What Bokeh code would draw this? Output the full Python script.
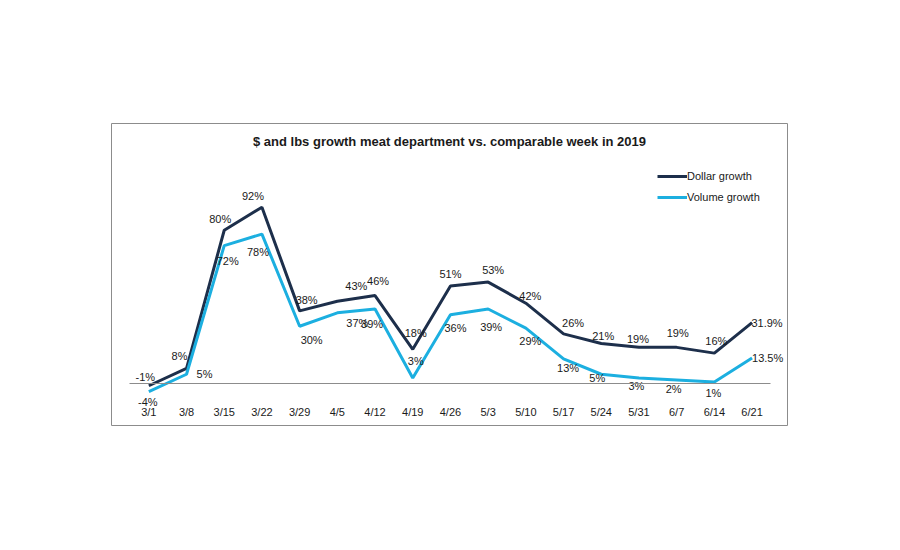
from bokeh.plotting import figure
from bokeh.models import (ColumnDataSource, Range1d, LinearAxis, FixedTicker,
                          Label, Legend, LegendItem)
from bokeh.embed import file_html
from bokeh.resources import INLINE

# Weekly growth vs. comparable week in 2019 (percent)
weeks = ["3/1", "3/8", "3/15", "3/22", "3/29", "4/5", "4/12", "4/19", "4/26",
         "5/3", "5/10", "5/17", "5/24", "5/31", "6/7", "6/14", "6/21"]
dollar_growth = [-1, 8, 80, 92, 38, 43, 46, 18, 51, 53, 42, 26, 21, 19, 19, 16, 31.9]
volume_growth = [-4, 5, 72, 78, 30, 37, 39, 3, 36, 39, 29, 13, 5, 3, 2, 1, 13.5]

# Pixel nudges for the value labels (dx, dy), positive dy = downward
dollar_dx = [-3.5, -7, -4, -9, 7, 19, 3, 3, 0, 5, 4.5, 9.5, 2, -1, 1, 2, 15]
dollar_dy = [-8.5, -12, -11, -11, -11, -15, -15, -16, -12, -12.5, -7, -11, -8, -8.5, -14, -12.5, 0]
volume_dx = [-1, 18, 3.5, -4, 12, 20, -3, 3, 5, 3, 4.5, 4.5, -4, -2.5, -3, -1, 15.6]
volume_dy = [10.7, 0, 15, 17.5, 14, 10, 15, -17, 13, 18, 12.5, 9.4, 3.6, 7.5, 9.5, 11, 0]

DARK = "#1d2f4b"
CYAN = "#1cafe0"
TEXT = "#1a1a1a"
FONT = "Liberation Sans"


def fmt(v):
    return f"{v:g}%"


idx = list(range(len(weeks)))
src = ColumnDataSource(dict(
    x=idx,
    dollar=dollar_growth,
    volume=volume_growth,
    dollar_lbl=[fmt(v) for v in dollar_growth],
    volume_lbl=[fmt(v) for v in volume_growth],
    ddx=dollar_dx, ddy=dollar_dy, vdx=volume_dx, vdy=volume_dy,
))

p = figure(width=900, height=550, output_backend="svg", toolbar_location=None,
           x_range=Range1d(-0.99, 16.94), y_range=Range1d(-21.7, 135.6),
           x_axis_type=None, y_axis_type=None,
           min_border_left=111, min_border_right=113,
           min_border_top=123, min_border_bottom=125)
p.xgrid.visible = False
p.ygrid.visible = False
p.outline_line_color = "#8c8c8c"
p.outline_line_width = 1
p.background_fill_color = "white"
p.border_fill_color = "white"

# Zero baseline across the category extent
zero_axis = LinearAxis(fixed_location=0, bounds=(-0.5, 16.5),
                       ticker=FixedTicker(ticks=[]))
zero_axis.axis_line_color = "#8c8c8c"
zero_axis.axis_line_width = 1
zero_axis.major_tick_line_color = None
zero_axis.minor_tick_line_color = None
zero_axis.major_label_text_font_size = "0px"
p.add_layout(zero_axis, "below")

# Week labels along the bottom of the plot area
week_axis = LinearAxis(fixed_location=-10, ticker=FixedTicker(ticks=idx),
                       major_label_overrides={i: w for i, w in enumerate(weeks)})
week_axis.axis_line_color = None
week_axis.major_tick_line_color = None
week_axis.minor_tick_line_color = None
week_axis.major_tick_in = 0
week_axis.major_tick_out = 0
week_axis.major_label_standoff = 3
week_axis.major_label_text_font = FONT
week_axis.major_label_text_font_size = "11px"
week_axis.major_label_text_color = TEXT
p.add_layout(week_axis, "below")

r_dollar = p.line("x", "dollar", source=src, line_color=DARK, line_width=3)
r_volume = p.line("x", "volume", source=src, line_color=CYAN, line_width=3)

common = dict(source=src, text_font_size="11px", text_color=TEXT,
              text_align="center", text_baseline="middle")
p.text("x", "dollar", text="dollar_lbl", x_offset="ddx", y_offset="ddy",
       text_font={"value": FONT}, **common)
p.text("x", "volume", text="volume_lbl", x_offset="vdx", y_offset="vdy",
       text_font={"value": FONT}, **common)

title = Label(x=338, y=284, x_units="screen", y_units="screen",
              text="$ and lbs growth meat department vs. comparable week in 2019",
              text_font=FONT, text_font_size="13px", text_font_style="bold",
              text_color=TEXT, text_align="center", text_baseline="middle")
p.add_layout(title)

legend = Legend(items=[LegendItem(label="Dollar growth", renderers=[r_dollar]),
                       LegendItem(label="Volume growth", renderers=[r_volume])],
                location=(546, 218), orientation="vertical",
                glyph_width=30, glyph_height=20, label_height=20,
                label_standoff=0, spacing=1, padding=0, margin=0,
                border_line_color=None, background_fill_alpha=0,
                label_text_font=FONT, label_text_font_size="11px",
                label_text_color=TEXT)
p.add_layout(legend, "center")

open("out.html", "w").write(file_html(p, INLINE))
